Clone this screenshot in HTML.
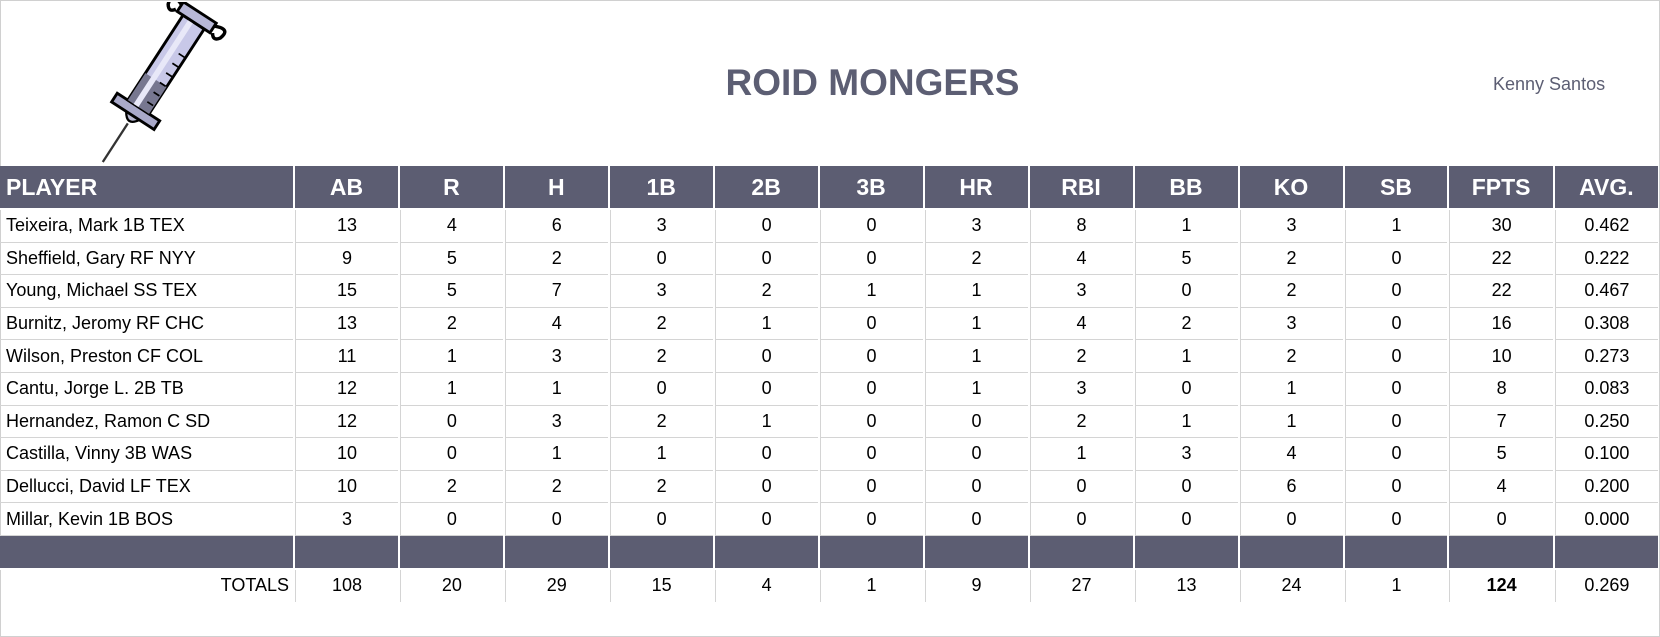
<!DOCTYPE html>
<html><head><style>
body{margin:0;width:1660px;height:637px;background:#fff;position:relative;overflow:hidden;font-family:"Liberation Sans",Arial,sans-serif;}
.frame{position:absolute;left:0;top:0;width:1658px;height:635px;border:1px solid #d0d0d0;}
.title{position:absolute;left:600px;width:545px;top:62px;text-align:center;font-size:37px;font-weight:bold;color:#5c5e73;}
.owner{position:absolute;left:1493px;top:74px;font-size:18px;color:#5c5e73;}
table{position:absolute;left:0;top:166px;border-collapse:separate;border-spacing:2px 0;margin-left:-2px;}
td,th{padding:0;font-size:18px;text-align:center;width:102.7px;}
th{background:#5c5d72;color:#fff;font-size:23px;height:42px;font-weight:bold;border-bottom:2px solid #fff;}
td{border-bottom:1px solid #d4d4d4;border-left:1px solid #d4d4d4;height:31.6px;}
td.p,th.p{width:295px;text-align:left;padding-left:6px;box-sizing:border-box;border-left:none;}
tr.bar td{background:#5c5d72;border:none;height:32px;border-bottom:2px solid #fff;}
tr.tot td{border-bottom:none;height:32px;}
tr.tot td.p{text-align:right;padding-right:4px;}
</style></head><body>
<div class="frame"></div>
<svg style="position:absolute;left:82px;top:2px" width="150" height="168" viewBox="0 0 150 168">
<g transform="translate(74,78) rotate(33) scale(1.15)">
<line x1="0" y1="45" x2="0" y2="85" stroke="#333" stroke-width="2"/>
<path d="M-8 35 Q0 50 8 35 Z" fill="#b8b8d0" stroke="#000" stroke-width="2"/>
<rect x="-22" y="28" width="44" height="9" fill="#a9a9c9" stroke="#000" stroke-width="2.5"/>
<rect x="-11" y="-60" width="22" height="88" fill="#c8c8e8" stroke="#000" stroke-width="2.5"/>
<rect x="-11" y="0" width="22" height="28" fill="#777790"/>
<rect x="-5" y="-60" width="5" height="88" fill="#e8e8f8"/>
<path d="M4 -30h6M4 -20h6M4 -10h6M4 0h6M4 10h6M4 20h6" stroke="#000" stroke-width="1.5"/>
<rect x="-17" y="-70" width="34" height="10" fill="#b8b8d8" stroke="#000" stroke-width="2.5"/>
<path d="M-17 -67 q-14 -6 -10 6 q4 6 8 0" fill="none" stroke="#000" stroke-width="3"/>
<path d="M17 -67 q14 -6 10 6 q-4 6 -8 0" fill="none" stroke="#000" stroke-width="3"/>
</g></svg>
<div class="title">ROID MONGERS</div>
<div class="owner">Kenny Santos</div>
<table>
<tr><th class="p">PLAYER</th><th>AB</th><th>R</th><th>H</th><th>1B</th><th>2B</th><th>3B</th><th>HR</th><th>RBI</th><th>BB</th><th>KO</th><th>SB</th><th>FPTS</th><th>AVG.</th></tr>
<tr><td class="p">Teixeira, Mark 1B TEX</td><td>13</td><td>4</td><td>6</td><td>3</td><td>0</td><td>0</td><td>3</td><td>8</td><td>1</td><td>3</td><td>1</td><td>30</td><td>0.462</td></tr>
<tr><td class="p">Sheffield, Gary RF NYY</td><td>9</td><td>5</td><td>2</td><td>0</td><td>0</td><td>0</td><td>2</td><td>4</td><td>5</td><td>2</td><td>0</td><td>22</td><td>0.222</td></tr>
<tr><td class="p">Young, Michael SS TEX</td><td>15</td><td>5</td><td>7</td><td>3</td><td>2</td><td>1</td><td>1</td><td>3</td><td>0</td><td>2</td><td>0</td><td>22</td><td>0.467</td></tr>
<tr><td class="p">Burnitz, Jeromy RF CHC</td><td>13</td><td>2</td><td>4</td><td>2</td><td>1</td><td>0</td><td>1</td><td>4</td><td>2</td><td>3</td><td>0</td><td>16</td><td>0.308</td></tr>
<tr><td class="p">Wilson, Preston CF COL</td><td>11</td><td>1</td><td>3</td><td>2</td><td>0</td><td>0</td><td>1</td><td>2</td><td>1</td><td>2</td><td>0</td><td>10</td><td>0.273</td></tr>
<tr><td class="p">Cantu, Jorge L. 2B TB</td><td>12</td><td>1</td><td>1</td><td>0</td><td>0</td><td>0</td><td>1</td><td>3</td><td>0</td><td>1</td><td>0</td><td>8</td><td>0.083</td></tr>
<tr><td class="p">Hernandez, Ramon C SD</td><td>12</td><td>0</td><td>3</td><td>2</td><td>1</td><td>0</td><td>0</td><td>2</td><td>1</td><td>1</td><td>0</td><td>7</td><td>0.250</td></tr>
<tr><td class="p">Castilla, Vinny 3B WAS</td><td>10</td><td>0</td><td>1</td><td>1</td><td>0</td><td>0</td><td>0</td><td>1</td><td>3</td><td>4</td><td>0</td><td>5</td><td>0.100</td></tr>
<tr><td class="p">Dellucci, David LF TEX</td><td>10</td><td>2</td><td>2</td><td>2</td><td>0</td><td>0</td><td>0</td><td>0</td><td>0</td><td>6</td><td>0</td><td>4</td><td>0.200</td></tr>
<tr><td class="p">Millar, Kevin 1B BOS</td><td>3</td><td>0</td><td>0</td><td>0</td><td>0</td><td>0</td><td>0</td><td>0</td><td>0</td><td>0</td><td>0</td><td>0</td><td>0.000</td></tr>
<tr class="bar"><td class="p"></td><td></td><td></td><td></td><td></td><td></td><td></td><td></td><td></td><td></td><td></td><td></td><td></td><td></td></tr>
<tr class="tot"><td class="p">TOTALS</td><td>108</td><td>20</td><td>29</td><td>15</td><td>4</td><td>1</td><td>9</td><td>27</td><td>13</td><td>24</td><td>1</td><td><b>124</b></td><td>0.269</td></tr>
</table>
</body></html>
